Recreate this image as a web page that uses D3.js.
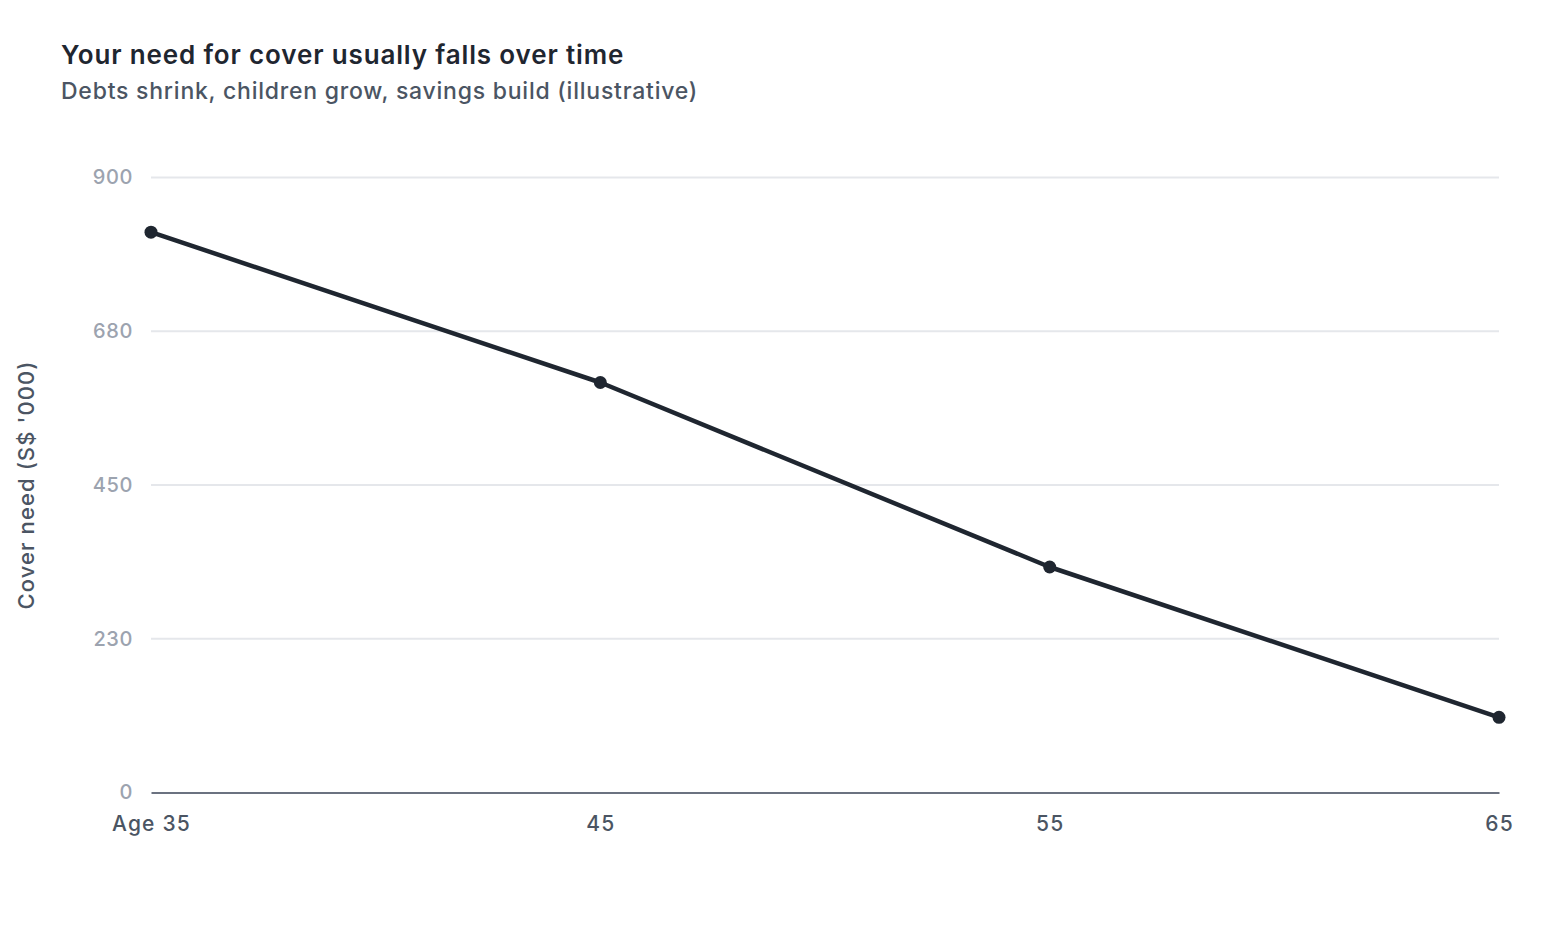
<!DOCTYPE html>
<html>
<head>
<meta charset="utf-8">
<script src="https://cdn.jsdelivr.net/npm/d3@7"></script>
<style>
  body { margin: 0; background: #fff; }
  text { font-family: Inter, "Noto Sans", sans-serif; }
</style>
</head>
<body>
<div id="chart"></div>
<script>
// data
var ages = [35, 45, 55, 65];
var ageLabels = ["Age 35", "45", "55", "65"];
var coverNeed = [820, 600, 330, 110];
var yTicks = [0, 225, 450, 675, 900];
var yTickLabels = ["0", "230", "450", "680", "900"];

var width = 1560, height = 932;
var margin = { top: 177.5, right: 61, bottom: 139.5, left: 151 };

var svg = d3.select("#chart")
  .append("svg")
    .attr("width", width)
    .attr("height", height);

var x = d3.scaleLinear()
  .domain([35, 65])
  .range([margin.left, width - margin.right]);

var y = d3.scaleLinear()
  .domain([0, 900])
  .range([height - margin.bottom, margin.top]);

// titles
svg.append("text")
  .attr("x", 61).attr("y", 64)
  .attr("font-size", 26).attr("font-weight", 600)
  .attr("letter-spacing", 0.85)
  .attr("fill", "#1f2630")
  .text("Your need for cover usually falls over time");

svg.append("text")
  .attr("x", 61).attr("y", 99)
  .attr("font-size", 23).attr("font-weight", 500)
  .attr("letter-spacing", 0.77)
  .attr("fill", "#4b5563")
  .text("Debts shrink, children grow, savings build (illustrative)");

// grid
svg.append("g")
  .selectAll("line")
  .data(yTicks.slice(1))
  .enter()
    .append("line")
    .attr("x1", x(35)).attr("x2", x(65))
    .attr("y1", function(d) { return y(d); })
    .attr("y2", function(d) { return y(d); })
    .attr("stroke", "#e5e7eb")
    .attr("stroke-width", 2);

// y axis
var yAxis = d3.axisLeft(y)
  .tickValues(yTicks)
  .tickSize(0)
  .tickPadding(18)
  .tickFormat(function(d, i) { return yTickLabels[i]; });

svg.append("g")
  .attr("transform", "translate(" + margin.left + ",0)")
  .call(yAxis)
  .call(function(g) { g.select(".domain").remove(); })
  .selectAll("text")
    .attr("font-size", 20)
    .attr("font-weight", 500)
    .attr("letter-spacing", 0.6)
    .attr("fill", "#9ca3af");

// x axis
var xAxis = d3.axisBottom(x)
  .tickValues(ages)
  .tickSize(0)
  .tickPadding(24)
  .tickFormat(function(d, i) { return ageLabels[i]; });

var xg = svg.append("g")
  .attr("transform", "translate(0," + y(0) + ")")
  .call(xAxis);
xg.select(".domain")
  .attr("stroke", "#6b7280")
  .attr("stroke-width", 2);
xg.selectAll("text")
  .attr("font-size", 21)
  .attr("font-weight", 500)
  .attr("letter-spacing", 1.2)
  .attr("fill", "#4b5563");

// y axis title
svg.append("text")
  .attr("transform", "translate(34," + ((y(0) + y(900)) / 2) + ") rotate(-90)")
  .attr("text-anchor", "middle")
  .attr("font-size", 22)
  .attr("font-weight", 500)
  .attr("letter-spacing", 1.1)
  .attr("fill", "#4b5563")
  .text("Cover need (S$ '000)");

// line
var line = d3.line()
  .x(function(d, i) { return x(ages[i]); })
  .y(function(d) { return y(d); });

svg.append("path")
  .datum(coverNeed)
  .attr("d", line)
  .attr("fill", "none")
  .attr("stroke", "#1f2630")
  .attr("stroke-width", 4.5)
  .attr("stroke-linejoin", "round");

svg.append("g")
  .selectAll("circle")
  .data(coverNeed)
  .enter()
    .append("circle")
    .attr("cx", function(d, i) { return x(ages[i]); })
    .attr("cy", function(d) { return y(d); })
    .attr("r", 6.5)
    .attr("fill", "#1f2630");
</script>
</body>
</html>
